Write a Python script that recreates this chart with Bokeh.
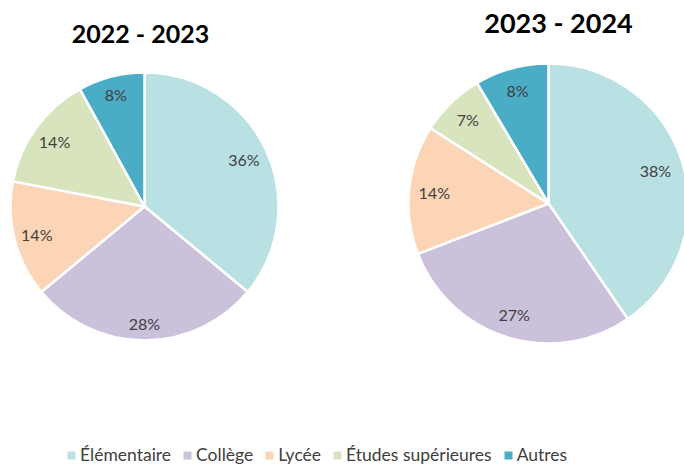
import math
from bokeh.plotting import figure
from bokeh.models import ColumnDataSource, Legend, LegendItem
from bokeh.core.properties import value
from bokeh.embed import file_html
from bokeh.resources import INLINE

categories = ["Élémentaire", "Collège", "Lycée", "Études supérieures", "Autres"]
values_2022 = [36, 28, 14, 14, 8]
values_2023 = [38, 27, 14, 7, 8]
labels_2022 = ["36%", "28%", "14%", "14%", "8%"]
labels_2023 = ["38%", "27%", "14%", "7%", "8%"]
titles = ["2022 - 2023", "2023 - 2024"]
colors = ["#B9E0E3", "#CCC1DB", "#FBD5B5", "#D8E4BD", "#4BACC6"]

# layout: label distance from centre, as a fraction of the radius
label_pos_2022 = [0.82, 0.87, 0.83, 0.83, 0.86]
label_pos_2023 = [0.80, 0.83, 0.82, 0.83, 0.84]

W, H = 684, 466
FONT = "Lato"

p = figure(width=W, height=H, x_range=(0, W), y_range=(0, H),
           output_backend="svg", toolbar_location=None, min_border=0)
p.axis.visible = False
p.grid.visible = False
p.outline_line_color = None
p.background_fill_color = "white"


def pie(vals, labels, cx, cy, r, label_fracs):
    total = float(sum(vals))
    starts, ends, lx, ly = [], [], [], []
    cum = 0.0
    for v, f in zip(vals, label_fracs):
        a0 = math.pi / 2 - 2 * math.pi * cum / total
        cum += v
        a1 = math.pi / 2 - 2 * math.pi * cum / total
        starts.append(a0)
        ends.append(a1)
        mid = (a0 + a1) / 2
        lx.append(cx + f * r * math.cos(mid))
        ly.append(cy + f * r * math.sin(mid))
    src = ColumnDataSource(dict(x=[cx] * len(vals), y=[cy] * len(vals),
                                start=starts, end=ends, color=colors,
                                cat=categories))
    p.wedge(x="x", y="y", radius=r, start_angle="start", end_angle="end",
            direction="clock", fill_color="color", line_color="white",
            line_width=2.5, source=src)
    lsrc = ColumnDataSource(dict(x=lx, y=ly, t=labels))
    p.text(x="x", y="y", text="t", source=lsrc, text_align="center",
           text_baseline="middle", text_font=value(FONT),
           text_font_size="16px", text_color="#404040")


pie(values_2022, labels_2022, 144, H - 206, 134, label_pos_2022)
pie(values_2023, labels_2023, 548, H - 203, 140, label_pos_2023)

tsrc = ColumnDataSource(dict(x=[140, 558], y=[H - 32, H - 22], t=titles,
                             s=["25px", "27px"]))
p.text(x="x", y="y", text="t", source=tsrc, text_align="center",
       text_baseline="middle", text_font=value(FONT), text_font_style="bold",
       text_font_size="s", text_color="black")

# legend swatches: hidden proxy renderers (not drawn on the plot)
items = []
for c, col in zip(categories, colors):
    rr = p.quad(left=[0], right=[1], top=[1], bottom=[0], fill_color=col,
                line_color=None, visible=False)
    items.append(LegendItem(label=c, renderers=[rr]))

legend = Legend(items=items, orientation="horizontal", location=(66, 1),
                glyph_width=10, glyph_height=10, label_standoff=4, spacing=11,
                label_text_font=FONT, label_text_font_size="17.5px",
                label_text_color="#404040", border_line_color=None,
                background_fill_alpha=0, padding=0, margin=0,
                label_height=18, click_policy="none")
p.add_layout(legend, "center")

open("out.html", "w").write(file_html(p, INLINE))
